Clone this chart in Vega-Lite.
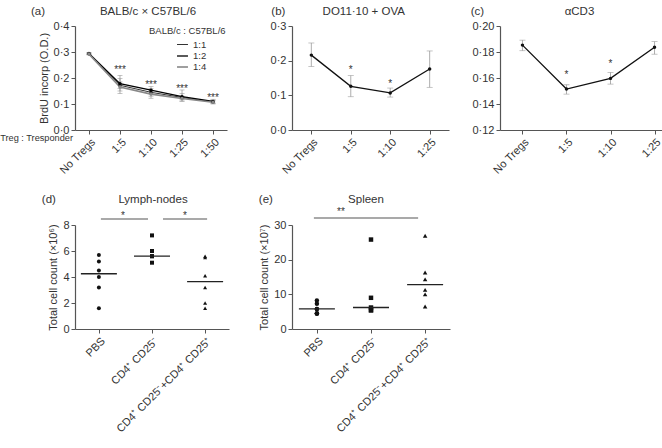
{
  "$schema": "https://vega.github.io/schema/vega-lite/v6.json",
  "padding": {"left": 0, "top": 5, "right": 0, "bottom": 0},
  "background": "white",
  "config": {
    "font": "Liberation Sans",
    "view": {"stroke": null},
    "axis": {"grid": false, "domainColor": "#555", "tickColor": "#555", "labelColor": "#333", "titleColor": "#333", "labelFontSize": 11, "titleFontSize": 11, "titleFontWeight": "normal", "tickSize": 4, "labelPadding": 2, "domainWidth": 1.2, "labelOverlap": false},
    "axisY": {"tickCount": 12},
    "legend": {"labelFontSize": 9.5, "titleFontSize": 9.5, "titleFontWeight": "normal", "labelColor": "#333", "titleColor": "#333"},
    "text": {"color": "#333"}
  },
  "datasets": {
    "a": [
      {"ratio": "No Tregs", "series": "1:1", "mean": 0.293, "lo": 0.290, "hi": 0.296},
      {"ratio": "No Tregs", "series": "1:2", "mean": 0.294, "lo": 0.291, "hi": 0.297},
      {"ratio": "No Tregs", "series": "1:4", "mean": 0.292, "lo": 0.289, "hi": 0.295},
      {"ratio": "1:5", "series": "1:1", "mean": 0.172, "lo": 0.140, "hi": 0.210},
      {"ratio": "1:5", "series": "1:2", "mean": 0.178, "lo": 0.160, "hi": 0.198},
      {"ratio": "1:5", "series": "1:4", "mean": 0.165, "lo": 0.150, "hi": 0.185},
      {"ratio": "1:10", "series": "1:1", "mean": 0.145, "lo": 0.130, "hi": 0.160},
      {"ratio": "1:10", "series": "1:2", "mean": 0.153, "lo": 0.140, "hi": 0.167},
      {"ratio": "1:10", "series": "1:4", "mean": 0.138, "lo": 0.122, "hi": 0.150},
      {"ratio": "1:25", "series": "1:1", "mean": 0.125, "lo": 0.112, "hi": 0.140},
      {"ratio": "1:25", "series": "1:2", "mean": 0.128, "lo": 0.118, "hi": 0.154},
      {"ratio": "1:25", "series": "1:4", "mean": 0.121, "lo": 0.110, "hi": 0.130},
      {"ratio": "1:50", "series": "1:1", "mean": 0.108, "lo": 0.102, "hi": 0.115},
      {"ratio": "1:50", "series": "1:2", "mean": 0.110, "lo": 0.104, "hi": 0.118},
      {"ratio": "1:50", "series": "1:4", "mean": 0.107, "lo": 0.100, "hi": 0.112}
    ],
    "a_sig": [
      {"ratio": "1:5", "y": 0.231, "label": "***"},
      {"ratio": "1:10", "y": 0.175, "label": "***"},
      {"ratio": "1:25", "y": 0.158, "label": "***"},
      {"ratio": "1:50", "y": 0.125, "label": "***"}
    ],
    "b": [
      {"ratio": "No Tregs", "mean": 0.216, "lo": 0.183, "hi": 0.251},
      {"ratio": "1:5", "mean": 0.126, "lo": 0.096, "hi": 0.157},
      {"ratio": "1:10", "mean": 0.107, "lo": 0.095, "hi": 0.121},
      {"ratio": "1:25", "mean": 0.176, "lo": 0.123, "hi": 0.228}
    ],
    "b_sig": [
      {"ratio": "1:5", "y": 0.174, "label": "*"},
      {"ratio": "1:10", "y": 0.132, "label": "*"}
    ],
    "c": [
      {"ratio": "No Tregs", "mean": 0.1853, "lo": 0.1810, "hi": 0.1891},
      {"ratio": "1:5", "mean": 0.1515, "lo": 0.1476, "hi": 0.1548},
      {"ratio": "1:10", "mean": 0.1597, "lo": 0.1553, "hi": 0.1643},
      {"ratio": "1:25", "mean": 0.1836, "lo": 0.1783, "hi": 0.1880}
    ],
    "c_sig": [
      {"ratio": "1:5", "y": 0.162, "label": "*"},
      {"ratio": "1:10", "y": 0.171, "label": "*"}
    ],
    "d": [
      {"group": "PBS", "value": 5.7}, {"group": "PBS", "value": 5.2}, {"group": "PBS", "value": 4.5},
      {"group": "PBS", "value": 4.0}, {"group": "PBS", "value": 3.2}, {"group": "PBS", "value": 1.6},
      {"group": "CD4⁺ CD25⁻", "value": 7.2}, {"group": "CD4⁺ CD25⁻", "value": 6.0}, {"group": "CD4⁺ CD25⁻", "value": 5.6},
      {"group": "CD4⁺ CD25⁻", "value": 5.6}, {"group": "CD4⁺ CD25⁻", "value": 5.1},
      {"group": "CD4⁺ CD25⁻+CD4⁺ CD25⁺", "value": 5.5}, {"group": "CD4⁺ CD25⁻+CD4⁺ CD25⁺", "value": 5.6},
      {"group": "CD4⁺ CD25⁻+CD4⁺ CD25⁺", "value": 4.1}, {"group": "CD4⁺ CD25⁻+CD4⁺ CD25⁺", "value": 3.2},
      {"group": "CD4⁺ CD25⁻+CD4⁺ CD25⁺", "value": 2.0}, {"group": "CD4⁺ CD25⁻+CD4⁺ CD25⁺", "value": 1.6}
    ],
    "e": [
      {"group": "PBS", "value": 8.2}, {"group": "PBS", "value": 7.3}, {"group": "PBS", "value": 5.8},
      {"group": "PBS", "value": 5.8}, {"group": "PBS", "value": 4.5}, {"group": "PBS", "value": 4.5},
      {"group": "PBS", "value": 4.5},
      {"group": "CD4⁺ CD25⁻", "value": 25.8}, {"group": "CD4⁺ CD25⁻", "value": 9.0}, {"group": "CD4⁺ CD25⁻", "value": 6.2},
      {"group": "CD4⁺ CD25⁻", "value": 5.4}, {"group": "CD4⁺ CD25⁻", "value": 5.4},
      {"group": "CD4⁺ CD25⁻+CD4⁺ CD25⁺", "value": 26.9}, {"group": "CD4⁺ CD25⁻+CD4⁺ CD25⁺", "value": 16.3},
      {"group": "CD4⁺ CD25⁻+CD4⁺ CD25⁺", "value": 14.3}, {"group": "CD4⁺ CD25⁻+CD4⁺ CD25⁺", "value": 11.3},
      {"group": "CD4⁺ CD25⁻+CD4⁺ CD25⁺", "value": 10.0}, {"group": "CD4⁺ CD25⁻+CD4⁺ CD25⁺", "value": 6.5}
    ],
    "empty": []
  },
  "columns": 5,
  "align": "none",
  "bounds": "flush",
  "spacing": {"row": 95, "column": 0},
  "resolve": {"scale": {"color": "independent", "shape": "independent", "strokeWidth": "independent"}, "legend": {"color": "independent", "shape": "independent", "strokeWidth": "independent"}},
  "concat": [
    {
      "width": 152, "height": 104,
      "encoding": {"x": {"field": "ratio", "type": "ordinal", "sort": ["No Tregs", "1:5", "1:10", "1:25", "1:50"], "scale": {"type": "point", "padding": 0.45}, "axis": {"title": null, "labelAngle": -45}}},
      "layer": [
        {"data": {"name": "a"}, "mark": {"type": "rule", "color": "#999", "strokeWidth": 0.8},
         "encoding": {"y": {"field": "lo", "type": "quantitative", "title": "BrdU incorp (O.D.)", "scale": {"domain": [0, 0.4], "nice": false}, "axis": {"values": [0, 0.1, 0.2, 0.3, 0.4], "tickCount": 12, "labelExpr": "replace(format(datum.value, '.1f'), '.', '·')"}}, "y2": {"field": "hi"}, "detail": {"field": "series"}}},
        {"data": {"name": "a"}, "mark": {"type": "tick", "size": 5, "thickness": 0.8, "color": "#999"},
         "encoding": {"y": {"field": "lo", "type": "quantitative", "title": "BrdU incorp (O.D.)", "axis": {"values": [0, 0.1, 0.2, 0.3, 0.4], "tickCount": 12, "labelExpr": "replace(format(datum.value, '.1f'), '.', '·')"}}}},
        {"data": {"name": "a"}, "mark": {"type": "tick", "size": 5, "thickness": 0.8, "color": "#999"},
         "encoding": {"y": {"field": "hi", "type": "quantitative", "title": "BrdU incorp (O.D.)", "axis": {"values": [0, 0.1, 0.2, 0.3, 0.4], "tickCount": 12, "labelExpr": "replace(format(datum.value, '.1f'), '.', '·')"}}}},
        {"data": {"name": "a"}, "mark": {"type": "line", "point": {"filled": true, "size": 12}},
         "encoding": {
           "y": {"field": "mean", "type": "quantitative", "title": "BrdU incorp (O.D.)", "axis": {"values": [0, 0.1, 0.2, 0.3, 0.4], "tickCount": 12, "labelExpr": "replace(format(datum.value, '.1f'), '.', '·')"}},
           "color": {"field": "series", "type": "nominal", "scale": {"domain": ["1:1", "1:2", "1:4"], "range": ["#333", "#000", "#888"]},
             "legend": {"title": "BALB/c : C57BL/6", "orient": "none", "legendX": 74, "legendY": 0, "symbolType": "stroke", "symbolOffset": 27, "symbolSize": 120, "symbolStrokeWidth": 1.1, "titlePadding": 3, "rowPadding": 0, "padding": 0}},
           "strokeWidth": {"field": "series", "type": "nominal", "scale": {"domain": ["1:1", "1:2", "1:4"], "range": [1, 1.6, 0.8]}, "legend": null}
         }},
        {"data": {"name": "a_sig"}, "mark": {"type": "text", "fontSize": 10, "baseline": "middle"},
         "encoding": {"y": {"field": "y", "type": "quantitative", "title": "BrdU incorp (O.D.)", "axis": {"values": [0, 0.1, 0.2, 0.3, 0.4], "tickCount": 12, "labelExpr": "replace(format(datum.value, '.1f'), '.', '·')"}}, "text": {"field": "label"}}},
        {"data": {"values": [{}]}, "mark": {"type": "text", "text": "(a)", "fontSize": 11.5, "baseline": "middle", "align": "center", "dx": -51, "clip": false},
         "encoding": {"x": {"datum": "No Tregs"}, "y": {"datum": 0.454}}},
        {"data": {"values": [{}]}, "mark": {"type": "text", "text": "BALB/c × C57BL/6", "fontSize": 11.5, "baseline": "middle", "align": "center", "dx": -3, "clip": false},
         "encoding": {"x": {"datum": "1:10"}, "y": {"datum": 0.454}}},
        {"data": {"values": [{}]}, "mark": {"type": "text", "text": "Treg : Tresponder", "fontSize": 9.2, "baseline": "middle", "align": "right", "dx": -16, "dy": 8, "clip": false},
         "encoding": {"x": {"datum": "No Tregs"}, "y": {"datum": 0}}}
      ]
    },
    {"width": 48, "height": 104, "data": {"name": "empty"}, "mark": "point"},
    {
      "width": 157, "height": 104,
      "encoding": {"x": {"field": "ratio", "type": "ordinal", "sort": ["No Tregs", "1:5", "1:10", "1:25"], "scale": {"type": "point", "padding": 0.49}, "axis": {"title": null, "labelAngle": -45}}},
      "layer": [
        {"data": {"name": "b"}, "mark": {"type": "rule", "color": "#999", "strokeWidth": 0.8},
         "encoding": {"y": {"field": "lo", "type": "quantitative", "title": null, "scale": {"domain": [0, 0.3], "nice": false}, "axis": {"values": [0, 0.1, 0.2, 0.3], "tickCount": 12, "labelExpr": "replace(format(datum.value, '.1f'), '.', '·')"}}, "y2": {"field": "hi"}}},
        {"data": {"name": "b"}, "mark": {"type": "tick", "size": 6, "thickness": 0.8, "color": "#999"},
         "encoding": {"y": {"field": "lo", "type": "quantitative", "title": null, "axis": {"values": [0, 0.1, 0.2, 0.3], "tickCount": 12, "labelExpr": "replace(format(datum.value, '.1f'), '.', '·')"}}}},
        {"data": {"name": "b"}, "mark": {"type": "tick", "size": 6, "thickness": 0.8, "color": "#999"},
         "encoding": {"y": {"field": "hi", "type": "quantitative", "title": null, "axis": {"values": [0, 0.1, 0.2, 0.3], "tickCount": 12, "labelExpr": "replace(format(datum.value, '.1f'), '.', '·')"}}}},
        {"data": {"name": "b"}, "mark": {"type": "line", "color": "#111", "strokeWidth": 1.3, "point": {"filled": true, "size": 12, "color": "#111"}},
         "encoding": {"y": {"field": "mean", "type": "quantitative", "title": null, "axis": {"values": [0, 0.1, 0.2, 0.3], "tickCount": 12, "labelExpr": "replace(format(datum.value, '.1f'), '.', '·')"}}}},
        {"data": {"name": "b_sig"}, "mark": {"type": "text", "fontSize": 10, "baseline": "middle"},
         "encoding": {"y": {"field": "y", "type": "quantitative", "title": null, "axis": {"values": [0, 0.1, 0.2, 0.3], "tickCount": 12, "labelExpr": "replace(format(datum.value, '.1f'), '.', '·')"}}, "text": {"field": "label"}}},
        {"data": {"values": [{}]}, "mark": {"type": "text", "text": "(b)", "fontSize": 11.5, "baseline": "middle", "align": "center", "dx": -33, "clip": false},
         "encoding": {"x": {"datum": "No Tregs"}, "y": {"datum": 0.341}}},
        {"data": {"values": [{}]}, "mark": {"type": "text", "text": "DO11·10 + OVA", "fontSize": 11.5, "baseline": "middle", "align": "center", "dx": 13, "clip": false},
         "encoding": {"x": {"datum": "1:5"}, "y": {"datum": 0.341}}}
      ]
    },
    {"width": 50, "height": 104, "data": {"name": "empty"}, "mark": "point"},
    {
      "width": 177, "height": 104,
      "encoding": {"x": {"field": "ratio", "type": "ordinal", "sort": ["No Tregs", "1:5", "1:10", "1:25"], "scale": {"type": "point", "padding": 0.51}, "axis": {"title": null, "labelAngle": -45}}},
      "layer": [
        {"data": {"name": "c"}, "mark": {"type": "rule", "color": "#999", "strokeWidth": 0.8},
         "encoding": {"y": {"field": "lo", "type": "quantitative", "title": null, "scale": {"domain": [0.12, 0.2], "nice": false, "zero": false}, "axis": {"values": [0.12, 0.14, 0.16, 0.18, 0.2], "tickCount": 12, "labelExpr": "replace(format(datum.value, '.2f'), '.', '·')"}}, "y2": {"field": "hi"}}},
        {"data": {"name": "c"}, "mark": {"type": "tick", "size": 6, "thickness": 0.8, "color": "#999"},
         "encoding": {"y": {"field": "lo", "type": "quantitative", "title": null, "axis": {"values": [0.12, 0.14, 0.16, 0.18, 0.2], "tickCount": 12, "labelExpr": "replace(format(datum.value, '.2f'), '.', '·')"}}}},
        {"data": {"name": "c"}, "mark": {"type": "tick", "size": 6, "thickness": 0.8, "color": "#999"},
         "encoding": {"y": {"field": "hi", "type": "quantitative", "title": null, "axis": {"values": [0.12, 0.14, 0.16, 0.18, 0.2], "tickCount": 12, "labelExpr": "replace(format(datum.value, '.2f'), '.', '·')"}}}},
        {"data": {"name": "c"}, "mark": {"type": "line", "color": "#111", "strokeWidth": 1.3, "point": {"filled": true, "size": 12, "color": "#111"}},
         "encoding": {"y": {"field": "mean", "type": "quantitative", "title": null, "axis": {"values": [0.12, 0.14, 0.16, 0.18, 0.2], "tickCount": 12, "labelExpr": "replace(format(datum.value, '.2f'), '.', '·')"}}}},
        {"data": {"name": "c_sig"}, "mark": {"type": "text", "fontSize": 10, "baseline": "middle"},
         "encoding": {"y": {"field": "y", "type": "quantitative", "title": null, "axis": {"values": [0.12, 0.14, 0.16, 0.18, 0.2], "tickCount": 12, "labelExpr": "replace(format(datum.value, '.2f'), '.', '·')"}}, "text": {"field": "label"}}},
        {"data": {"values": [{}]}, "mark": {"type": "text", "text": "(c)", "fontSize": 11.5, "baseline": "middle", "align": "center", "dx": -45, "clip": false},
         "encoding": {"x": {"datum": "No Tregs"}, "y": {"datum": 0.2108}}},
        {"data": {"values": [{}]}, "mark": {"type": "text", "text": "αCD3", "fontSize": 11.5, "baseline": "middle", "align": "center", "dx": 13, "clip": false},
         "encoding": {"x": {"datum": "1:5"}, "y": {"datum": 0.2108}}}
      ]
    },
    {
      "width": 154, "height": 104,
      "encoding": {"x": {"field": "group", "type": "ordinal", "sort": ["PBS", "CD4⁺ CD25⁻", "CD4⁺ CD25⁻+CD4⁺ CD25⁺"], "scale": {"type": "point", "padding": 0.45}, "axis": {"title": null, "labelAngle": -45}}},
      "layer": [
        {"data": {"name": "d"}, "mark": {"type": "point", "filled": true, "size": 16, "opacity": 1, "color": "#111"},
         "encoding": {"y": {"field": "value", "type": "quantitative", "title": "Total cell count (×10⁶)", "scale": {"domain": [0, 8], "nice": false}, "axis": {"values": [0, 2, 4, 6, 8], "tickCount": 12, "format": ".0f"}},
           "shape": {"field": "group", "type": "nominal", "scale": {"domain": ["PBS", "CD4⁺ CD25⁻", "CD4⁺ CD25⁻+CD4⁺ CD25⁺"], "range": ["circle", "square", "triangle-up"]}, "legend": null}}},
        {"data": {"name": "d"}, "mark": {"type": "tick", "size": 36, "thickness": 1.3, "color": "#222"},
         "encoding": {"y": {"aggregate": "median", "field": "value", "type": "quantitative", "title": "Total cell count (×10⁶)", "axis": {"values": [0, 2, 4, 6, 8], "tickCount": 12, "format": ".0f"}}}},
        {"data": {"values": [{}]}, "mark": {"type": "rule", "color": "#555", "strokeWidth": 1.1, "clip": false, "xOffset": 2, "x2Offset": -4},
         "encoding": {"x": {"datum": "PBS"}, "x2": {"datum": "CD4⁺ CD25⁻"}, "y": {"datum": 8.46}}},
        {"data": {"values": [{}]}, "mark": {"type": "rule", "color": "#555", "strokeWidth": 1.1, "clip": false, "xOffset": 11, "x2Offset": 2},
         "encoding": {"x": {"datum": "CD4⁺ CD25⁻"}, "x2": {"datum": "CD4⁺ CD25⁻+CD4⁺ CD25⁺"}, "y": {"datum": 8.46}}},
        {"data": {"values": [{}]}, "mark": {"type": "text", "text": "*", "fontSize": 10, "baseline": "middle", "dx": 24, "clip": false},
         "encoding": {"x": {"datum": "PBS"}, "y": {"datum": 8.7}}},
        {"data": {"values": [{}]}, "mark": {"type": "text", "text": "*", "fontSize": 10, "baseline": "middle", "dx": 33, "clip": false},
         "encoding": {"x": {"datum": "CD4⁺ CD25⁻"}, "y": {"datum": 8.7}}},
        {"data": {"values": [{}]}, "mark": {"type": "text", "text": "(d)", "fontSize": 11.5, "baseline": "middle", "align": "center", "dx": -50, "clip": false},
         "encoding": {"x": {"datum": "PBS"}, "y": {"datum": 9.95}}},
        {"data": {"values": [{}]}, "mark": {"type": "text", "text": "Lymph-nodes", "fontSize": 11.5, "baseline": "middle", "align": "center", "dx": 1, "clip": false},
         "encoding": {"x": {"datum": "CD4⁺ CD25⁻"}, "y": {"datum": 9.95}}}
      ]
    },
    {"width": 63, "height": 104, "data": {"name": "empty"}, "mark": "point"},
    {
      "width": 158, "height": 104,
      "encoding": {"x": {"field": "group", "type": "ordinal", "sort": ["PBS", "CD4⁺ CD25⁻", "CD4⁺ CD25⁻+CD4⁺ CD25⁺"], "scale": {"type": "point", "padding": 0.46}, "axis": {"title": null, "labelAngle": -45}}},
      "layer": [
        {"data": {"name": "e"}, "mark": {"type": "point", "filled": true, "size": 20, "opacity": 1, "color": "#111"},
         "encoding": {"y": {"field": "value", "type": "quantitative", "title": "Total cell count (×10⁷)", "scale": {"domain": [0, 30], "nice": false}, "axis": {"values": [0, 10, 20, 30], "tickCount": 12, "format": ".0f"}},
           "shape": {"field": "group", "type": "nominal", "scale": {"domain": ["PBS", "CD4⁺ CD25⁻", "CD4⁺ CD25⁻+CD4⁺ CD25⁺"], "range": ["circle", "square", "triangle-up"]}, "legend": null}}},
        {"data": {"name": "e"}, "mark": {"type": "tick", "size": 36, "thickness": 1.3, "color": "#222"},
         "encoding": {"y": {"aggregate": "median", "field": "value", "type": "quantitative", "title": "Total cell count (×10⁷)", "axis": {"values": [0, 10, 20, 30], "tickCount": 12, "format": ".0f"}}}},
        {"data": {"values": [{}]}, "mark": {"type": "rule", "color": "#555", "strokeWidth": 1.1, "clip": false, "xOffset": -3, "x2Offset": -7},
         "encoding": {"x": {"datum": "PBS"}, "x2": {"datum": "CD4⁺ CD25⁻+CD4⁺ CD25⁺"}, "y": {"datum": 32.0}}},
        {"data": {"values": [{}]}, "mark": {"type": "text", "text": "**", "fontSize": 10, "baseline": "middle", "dx": 24, "clip": false},
         "encoding": {"x": {"datum": "PBS"}, "y": {"datum": 33.7}}},
        {"data": {"values": [{}]}, "mark": {"type": "text", "text": "(e)", "fontSize": 11.5, "baseline": "middle", "align": "center", "dx": -51, "clip": false},
         "encoding": {"x": {"datum": "PBS"}, "y": {"datum": 37.2}}},
        {"data": {"values": [{}]}, "mark": {"type": "text", "text": "Spleen", "fontSize": 11.5, "baseline": "middle", "align": "center", "dx": -5, "clip": false},
         "encoding": {"x": {"datum": "CD4⁺ CD25⁻"}, "y": {"datum": 37.2}}}
      ]
    }
  ]
}
